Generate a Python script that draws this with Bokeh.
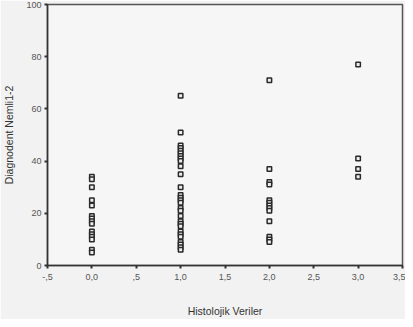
from bokeh.plotting import figure
from bokeh.models import FixedTicker, Range1d, ColumnDataSource
from bokeh.embed import file_html
from bokeh.resources import INLINE

# Data
hist_0 = [34, 33, 30, 25, 23, 19, 18, 17, 16, 13, 12, 11, 10, 6, 5]
hist_1 = [65, 51, 46, 45, 44, 43, 42, 41, 40, 38, 35, 30, 27, 26, 25, 24, 22, 21,
          19, 17, 16, 15, 13, 12, 11, 9, 8, 7, 6]
hist_2 = [71, 37, 32, 31, 25, 24, 23, 22, 21, 17, 11, 10, 9]
hist_3 = [77, 41, 37, 34]

x_ticks = [-0.5, 0, 0.5, 1, 1.5, 2, 2.5, 3, 3.5]
x_tick_labels = ["-,5", "0,0", ",5", "1,0", "1,5", "2,0", "2,5", "3,0", "3,5"]
y_ticks = [0, 20, 40, 60, 80, 100]

xs, ys = [], []
for xv, col in [(0, hist_0), (1, hist_1), (2, hist_2), (3, hist_3)]:
    xs += [xv] * len(col)
    ys += col
src = ColumnDataSource(dict(x=xs, y=ys))

p = figure(width=405, height=319, output_backend="svg", toolbar_location=None,
           x_range=Range1d(-0.5, 3.5), y_range=Range1d(0, 100),
           min_border_left=45, min_border_right=3, min_border_top=4, min_border_bottom=40)

p.background_fill_color = "#f6f6f6"
p.border_fill_color = "#f2f2f2"
p.outline_line_color = "#555555"
p.outline_line_width = 1.5

p.scatter("x", "y", source=src, marker="square", size=4.5, fill_color="#eeeeee",
          line_color="#2a2a2a", line_width=1.5)

p.grid.visible = False

p.xaxis.ticker = FixedTicker(ticks=x_ticks)
p.xaxis.major_label_overrides = {t: l for t, l in zip(x_ticks, x_tick_labels)}
p.yaxis.ticker = FixedTicker(ticks=y_ticks)

for ax in (p.xaxis, p.yaxis):
    ax.axis_line_color = "#333333"
    ax.axis_line_width = 1.5
    ax.major_tick_line_color = "#333333"
    ax.major_tick_line_width = 2
    ax.major_tick_out = 3
    ax.major_tick_in = 0
    ax.minor_tick_line_color = None
    ax.major_label_text_font = "Liberation Sans"
    ax.major_label_text_font_size = "9px"
    ax.major_label_text_color = "#555555"
    ax.axis_label_text_font = "Liberation Sans"
    ax.axis_label_text_font_size = "10.5px"
    ax.axis_label_text_font_style = "normal"
    ax.axis_label_text_color = "#333333"

p.xaxis.axis_label = "Histolojik Veriler"
p.xaxis.axis_label_standoff = 22
p.yaxis.axis_label = "Diagnodent Nemli1-2"
p.yaxis.axis_label_standoff = 8
p.yaxis.major_label_standoff = 3
p.xaxis.major_label_standoff = 5

open("out.html", "w").write(file_html(p, INLINE))
